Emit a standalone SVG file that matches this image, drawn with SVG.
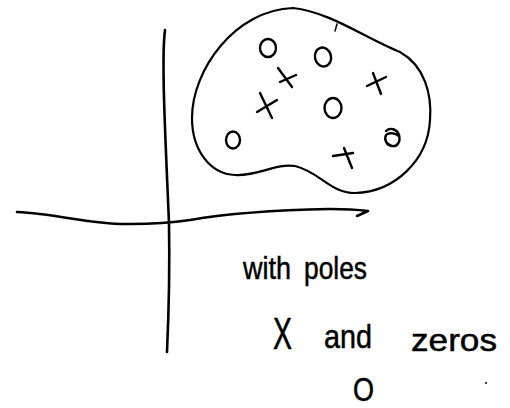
<svg xmlns="http://www.w3.org/2000/svg" width="510" height="408" viewBox="0 0 510 408">
<style>
.ink{fill:none;stroke:#000;stroke-linecap:round;stroke-linejoin:round}
.ax{stroke-width:2.6}
.bl{stroke-width:2.2}
.mk{stroke-width:2.4}
.t{font-family:"Liberation Sans","DejaVu Sans",sans-serif;fill:#000;stroke:#000;stroke-width:0.5}
</style>
<rect width="510" height="408" fill="#fff"/>
<g id="axes">
  <path class="ink ax" d="M165,30 C161,60 166,150 169,223 C170,280 168,330 167,352"/>
  <path class="ink ax" d="M17,212 C60,214 90,225 130,224 C150,224 170,223 190,220 C230,213 280,210 330,209 C350,209 360,210 368,211 L357,216"/>
</g>
<g id="region">
  <path class="ink bl" d="M293,8 C330,12 365,38 400,52 C425,66 432,95 430,120 C428,160 395,192 355,193 C330,193 320,172 295,166 C275,163 260,176 235,175 C210,174 192,150 192,118 C192,70 235,10 293,8 Z"/>
  <path class="ink" stroke-width="1.5" d="M337,24 L335,31"/>
</g>
<g id="zeros-in-region">
  <ellipse class="ink mk" cx="268" cy="48" rx="8" ry="9"/>
  <ellipse class="ink mk" cx="323" cy="57" rx="8" ry="9.5" transform="rotate(-15 323 57)"/>
  <ellipse class="ink mk" cx="333" cy="108" rx="8.5" ry="10"/>
  <ellipse class="ink mk" cx="233" cy="140" rx="7" ry="8.5"/>
  <path class="ink mk" d="M386,131 C390,127 397,129 399,135 C401,142 397,147 392,146 C386,145 384,139 386,135 C389,132 395,133 399,136"/>
</g>
<g id="poles-in-region">
  <path class="ink mk" d="M278,68 L292,87 M280,82 L296,75"/>
  <path class="ink mk" d="M260,93 L272,118 M257,112 L277,100"/>
  <path class="ink mk" d="M367,86 L386,77 M373,73 L381,94"/>
  <path class="ink mk" d="M333,156 L353,153 M344,148 L352,168"/>
</g>
<g id="labels">
  <text class="t" x="243" y="279" font-size="32" textLength="48" lengthAdjust="spacingAndGlyphs">with</text>
  <text class="t" x="304" y="279" font-size="32" textLength="63" lengthAdjust="spacingAndGlyphs">poles</text>
  <text class="t" x="273" y="349" font-size="44" textLength="19" lengthAdjust="spacingAndGlyphs">X</text>
  <text class="t" x="324" y="348" font-size="34" textLength="48" lengthAdjust="spacingAndGlyphs">and</text>
  <text class="t" x="411" y="351" font-size="32" textLength="86" lengthAdjust="spacingAndGlyphs">zeros</text>
  <text class="t" x="353" y="401" font-size="33" textLength="21" lengthAdjust="spacingAndGlyphs">O</text>
  <circle cx="486" cy="383" r="1" fill="#000"/>
</g>
</svg>
